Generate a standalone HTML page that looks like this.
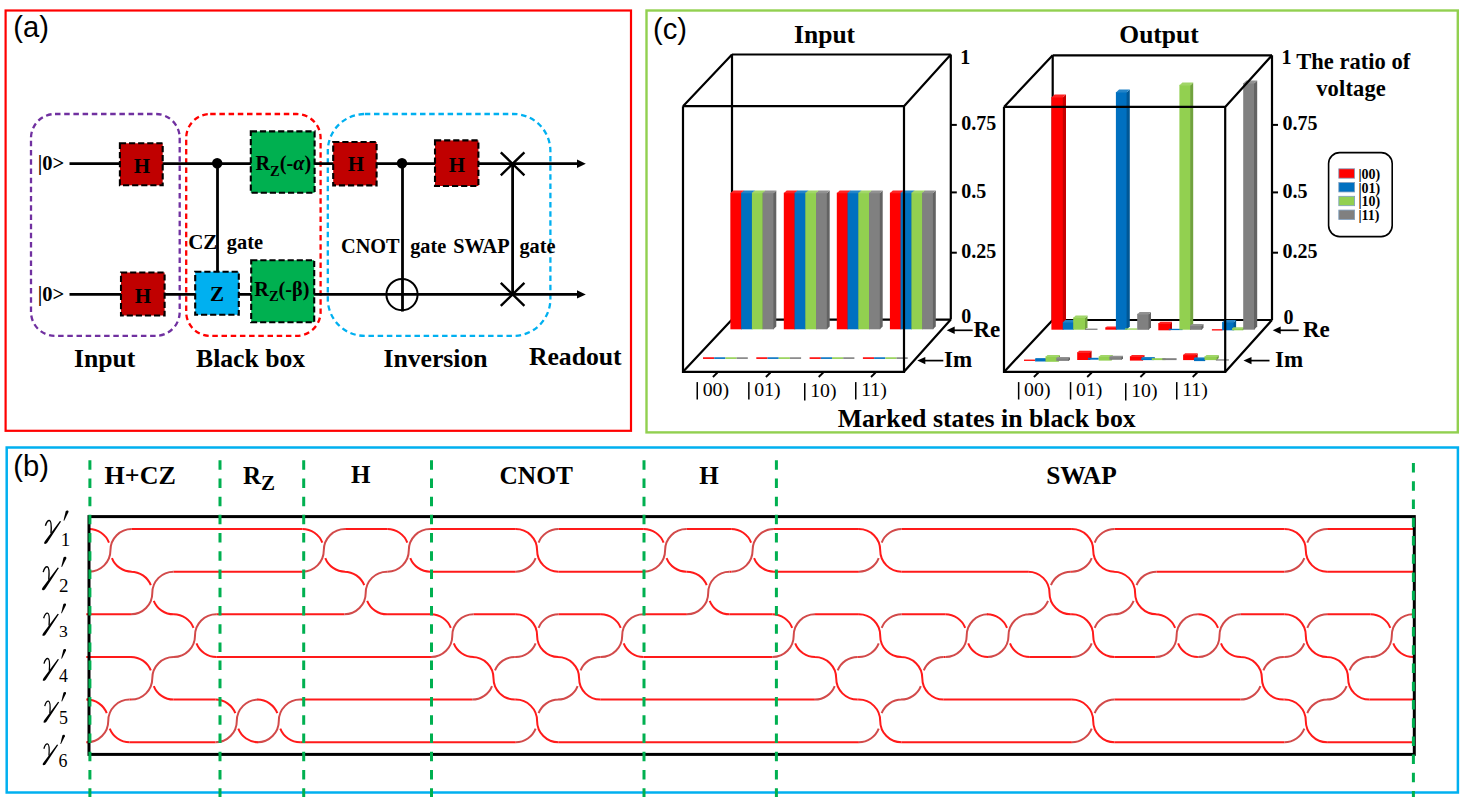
<!DOCTYPE html>
<html><head><meta charset="utf-8"><style>html,body{margin:0;padding:0;background:#fff;}svg{display:block;}</style></head>
<body>
<svg width="1463" height="801" viewBox="0 0 1463 801">
<rect x="0" y="0" width="1463" height="801" fill="#fff"/>
<rect x="5.6" y="10.5" width="625.4" height="420.3" fill="none" stroke="#FF0000" stroke-width="2.2"/>
<rect x="646.5" y="10.5" width="811.3" height="421.9" fill="none" stroke="#92D050" stroke-width="2.4"/>
<rect x="6.7" y="447.5" width="1451.2" height="345" fill="none" stroke="#00B0F0" stroke-width="2.5"/>
<text x="13.3" y="36.9" font-family='"Liberation Sans", sans-serif' font-size="29.2" fill="#000">(a)</text>
<text x="653" y="38.7" font-family='"Liberation Sans", sans-serif' font-size="29.2" fill="#000">(c)</text>
<text x="13.3" y="475.7" font-family='"Liberation Sans", sans-serif' font-size="29.2" fill="#000">(b)</text>
<rect x="31" y="114" width="148.7" height="221.89999999999998" rx="24" ry="24" fill="none" stroke="#7030A0" stroke-width="2.3" stroke-dasharray="5.5 3.7"/>
<rect x="186.2" y="114" width="134.40000000000003" height="221.89999999999998" rx="24" ry="24" fill="none" stroke="#FF0000" stroke-width="2.3" stroke-dasharray="5.5 3.7"/>
<rect x="327.8" y="114" width="222.59999999999997" height="221.89999999999998" rx="37" ry="37" fill="none" stroke="#00B0F0" stroke-width="2.3" stroke-dasharray="5.5 3.7"/>
<line x1="69.5" y1="163.6" x2="580" y2="163.6" stroke="#000" stroke-width="2.6"/>
<line x1="69.5" y1="294.4" x2="580" y2="294.4" stroke="#000" stroke-width="2.6"/>
<path d="M585.8,163.8 L577,159.6 L577,168 Z" fill="#000"/>
<path d="M585.8,294.4 L577,290.2 L577,298.6 Z" fill="#000"/>
<line x1="217.5" y1="163.6" x2="217.5" y2="272" stroke="#000" stroke-width="2.8"/>
<circle cx="217.2" cy="163.3" r="5.2" fill="#000"/>
<line x1="402.5" y1="163.6" x2="402.5" y2="311.5" stroke="#000" stroke-width="2.8"/>
<circle cx="402" cy="163.2" r="5.2" fill="#000"/>
<circle cx="402" cy="294.6" r="15.6" fill="none" stroke="#000" stroke-width="2"/>
<line x1="512.6" y1="163.6" x2="512.6" y2="294.4" stroke="#000" stroke-width="2.8"/>
<path d="M500.8,152.3 L524.4,175.3 M524.4,152.3 L500.8,175.3" stroke="#000" stroke-width="2.4"/>
<path d="M500.8,282.9 L524.4,305.9 M524.4,282.9 L500.8,305.9" stroke="#000" stroke-width="2.4"/>
<rect x="119.9" y="143.3" width="42.79999999999998" height="42.0" fill="#C00000" stroke="#000" stroke-width="2.1" stroke-dasharray="6.2 2.9"/>
<rect x="121" y="272.5" width="43.599999999999994" height="43.0" fill="#C00000" stroke="#000" stroke-width="2.1" stroke-dasharray="6.2 2.9"/>
<rect x="195.2" y="271.7" width="43.60000000000002" height="43.10000000000002" fill="#00B0F0" stroke="#000" stroke-width="2.1" stroke-dasharray="6.2 2.9"/>
<rect x="250.8" y="131.4" width="63.80000000000001" height="61.400000000000006" fill="#00B050" stroke="#000" stroke-width="2.1" stroke-dasharray="6.2 2.9"/>
<rect x="251.2" y="260.2" width="63.0" height="62.0" fill="#00B050" stroke="#000" stroke-width="2.1" stroke-dasharray="6.2 2.9"/>
<rect x="333.2" y="142" width="43.400000000000034" height="43.400000000000006" fill="#C00000" stroke="#000" stroke-width="2.1" stroke-dasharray="6.2 2.9"/>
<rect x="435" y="140.4" width="43.39999999999998" height="45.599999999999994" fill="#C00000" stroke="#000" stroke-width="2.1" stroke-dasharray="6.2 2.9"/>
<text x="142" y="173" font-family='"Liberation Serif", serif' font-size="21" font-weight="bold" font-style="normal" text-anchor="middle" fill="#000" >H</text>
<text x="143" y="303" font-family='"Liberation Serif", serif' font-size="21" font-weight="bold" font-style="normal" text-anchor="middle" fill="#000" >H</text>
<text x="356" y="170.7" font-family='"Liberation Serif", serif' font-size="21" font-weight="bold" font-style="normal" text-anchor="middle" fill="#000" >H</text>
<text x="457" y="172.4" font-family='"Liberation Serif", serif' font-size="21" font-weight="bold" font-style="normal" text-anchor="middle" fill="#000" >H</text>
<text x="217" y="301" font-family='"Liberation Serif", serif' font-size="21" font-weight="bold" font-style="normal" text-anchor="middle" fill="#000" >Z</text>
<text x="255.5" y="169.8" font-family='"Liberation Serif", serif' font-size="20.2" font-weight="bold">R<tspan font-size="14.5" dy="6">Z</tspan><tspan dy="-6">(-</tspan><tspan font-style="italic">α</tspan>)</text>
<text x="254.3" y="295.8" font-family='"Liberation Serif", serif' font-size="20.2" font-weight="bold">R<tspan font-size="14.5" dy="5">Z</tspan><tspan dy="-5">(-β)</tspan></text>
<text x="37.7" y="170" font-family='"Liberation Serif", serif' font-size="20.5" font-weight="bold" font-style="normal" text-anchor="start" fill="#000" >|0&gt;</text>
<text x="37.7" y="300.5" font-family='"Liberation Serif", serif' font-size="20.5" font-weight="bold" font-style="normal" text-anchor="start" fill="#000" >|0&gt;</text>
<text x="188.2" y="248.9" font-family='"Liberation Serif", serif' font-size="21" font-weight="bold" font-style="normal" text-anchor="start" fill="#000" >CZ</text>
<text x="226.8" y="248.9" font-family='"Liberation Serif", serif' font-size="20.4" font-weight="bold" font-style="normal" text-anchor="start" fill="#000" >gate</text>
<text x="341.0" y="253.1" font-family='"Liberation Serif", serif' font-size="20.3" font-weight="bold" font-style="normal" text-anchor="start" fill="#000" >CNOT</text>
<text x="410.2" y="253.1" font-family='"Liberation Serif", serif' font-size="20.3" font-weight="bold" font-style="normal" text-anchor="start" fill="#000" >gate</text>
<text x="453.3" y="253.1" font-family='"Liberation Serif", serif' font-size="20.3" font-weight="bold" font-style="normal" text-anchor="start" fill="#000" >SWAP</text>
<text x="519.4" y="253.1" font-family='"Liberation Serif", serif' font-size="20.3" font-weight="bold" font-style="normal" text-anchor="start" fill="#000" >gate</text>
<text x="74" y="366.8" font-family='"Liberation Serif", serif' font-size="25.7" font-weight="bold" font-style="normal" text-anchor="start" fill="#000" >Input</text>
<text x="196" y="366.8" font-family='"Liberation Serif", serif' font-size="25.7" font-weight="bold" font-style="normal" text-anchor="start" fill="#000" >Black box</text>
<text x="383.4" y="366.5" font-family='"Liberation Serif", serif' font-size="25.7" font-weight="bold" font-style="normal" text-anchor="start" fill="#000" >Inversion</text>
<text x="528.9" y="364.8" font-family='"Liberation Serif", serif' font-size="25.7" font-weight="bold" font-style="normal" text-anchor="start" fill="#000" >Readout</text>
<path d="M732.0,54.5 L950.8,54.5 M732.0,54.5 L732.0,319.6 L950.8,319.6 M683.0,371.8 L732.0,319.6" fill="none" stroke="#000" stroke-width="2.2"/>
<rect x="730.40" y="192.70" width="11.35" height="136.60" fill="#FF0000"/>
<path d="M741.15,193.30 L744.05,190.40 L744.05,326.40 L741.15,329.30 Z" fill="#c60000"/>
<path d="M730.40,193.30 L733.30,190.40 L744.05,190.40 L741.15,193.30 Z" fill="#ff2323"/>
<rect x="741.15" y="192.70" width="11.35" height="136.60" fill="#0070C0"/>
<path d="M751.90,193.30 L754.80,190.40 L754.80,326.40 L751.90,329.30 Z" fill="#005795"/>
<path d="M741.15,193.30 L744.05,190.40 L754.80,190.40 L751.90,193.30 Z" fill="#2384c8"/>
<rect x="751.90" y="192.70" width="11.35" height="136.60" fill="#92D050"/>
<path d="M762.65,193.30 L765.55,190.40 L765.55,326.40 L762.65,329.30 Z" fill="#71a23e"/>
<path d="M751.90,193.30 L754.80,190.40 L765.55,190.40 L762.65,193.30 Z" fill="#a1d668"/>
<rect x="762.65" y="192.70" width="11.35" height="136.60" fill="#808080"/>
<path d="M773.40,193.30 L776.30,190.40 L776.30,326.40 L773.40,329.30 Z" fill="#636363"/>
<path d="M762.65,193.30 L765.55,190.40 L776.30,190.40 L773.40,193.30 Z" fill="#919191"/>
<rect x="783.80" y="192.70" width="11.35" height="136.60" fill="#FF0000"/>
<path d="M794.55,193.30 L797.45,190.40 L797.45,326.40 L794.55,329.30 Z" fill="#c60000"/>
<path d="M783.80,193.30 L786.70,190.40 L797.45,190.40 L794.55,193.30 Z" fill="#ff2323"/>
<rect x="794.55" y="192.70" width="11.35" height="136.60" fill="#0070C0"/>
<path d="M805.30,193.30 L808.20,190.40 L808.20,326.40 L805.30,329.30 Z" fill="#005795"/>
<path d="M794.55,193.30 L797.45,190.40 L808.20,190.40 L805.30,193.30 Z" fill="#2384c8"/>
<rect x="805.30" y="192.70" width="11.35" height="136.60" fill="#92D050"/>
<path d="M816.05,193.30 L818.95,190.40 L818.95,326.40 L816.05,329.30 Z" fill="#71a23e"/>
<path d="M805.30,193.30 L808.20,190.40 L818.95,190.40 L816.05,193.30 Z" fill="#a1d668"/>
<rect x="816.05" y="192.70" width="11.35" height="136.60" fill="#808080"/>
<path d="M826.80,193.30 L829.70,190.40 L829.70,326.40 L826.80,329.30 Z" fill="#636363"/>
<path d="M816.05,193.30 L818.95,190.40 L829.70,190.40 L826.80,193.30 Z" fill="#919191"/>
<rect x="836.80" y="192.70" width="11.35" height="136.60" fill="#FF0000"/>
<path d="M847.55,193.30 L850.45,190.40 L850.45,326.40 L847.55,329.30 Z" fill="#c60000"/>
<path d="M836.80,193.30 L839.70,190.40 L850.45,190.40 L847.55,193.30 Z" fill="#ff2323"/>
<rect x="847.55" y="192.70" width="11.35" height="136.60" fill="#0070C0"/>
<path d="M858.30,193.30 L861.20,190.40 L861.20,326.40 L858.30,329.30 Z" fill="#005795"/>
<path d="M847.55,193.30 L850.45,190.40 L861.20,190.40 L858.30,193.30 Z" fill="#2384c8"/>
<rect x="858.30" y="192.70" width="11.35" height="136.60" fill="#92D050"/>
<path d="M869.05,193.30 L871.95,190.40 L871.95,326.40 L869.05,329.30 Z" fill="#71a23e"/>
<path d="M858.30,193.30 L861.20,190.40 L871.95,190.40 L869.05,193.30 Z" fill="#a1d668"/>
<rect x="869.05" y="192.70" width="11.35" height="136.60" fill="#808080"/>
<path d="M879.80,193.30 L882.70,190.40 L882.70,326.40 L879.80,329.30 Z" fill="#636363"/>
<path d="M869.05,193.30 L871.95,190.40 L882.70,190.40 L879.80,193.30 Z" fill="#919191"/>
<rect x="889.90" y="192.70" width="11.35" height="136.60" fill="#FF0000"/>
<path d="M900.65,193.30 L903.55,190.40 L903.55,326.40 L900.65,329.30 Z" fill="#c60000"/>
<path d="M889.90,193.30 L892.80,190.40 L903.55,190.40 L900.65,193.30 Z" fill="#ff2323"/>
<rect x="900.65" y="192.70" width="11.35" height="136.60" fill="#0070C0"/>
<path d="M911.40,193.30 L914.30,190.40 L914.30,326.40 L911.40,329.30 Z" fill="#005795"/>
<path d="M900.65,193.30 L903.55,190.40 L914.30,190.40 L911.40,193.30 Z" fill="#2384c8"/>
<rect x="911.40" y="192.70" width="11.35" height="136.60" fill="#92D050"/>
<path d="M922.15,193.30 L925.05,190.40 L925.05,326.40 L922.15,329.30 Z" fill="#71a23e"/>
<path d="M911.40,193.30 L914.30,190.40 L925.05,190.40 L922.15,193.30 Z" fill="#a1d668"/>
<rect x="922.15" y="192.70" width="11.35" height="136.60" fill="#808080"/>
<path d="M932.90,193.30 L935.80,190.40 L935.80,326.40 L932.90,329.30 Z" fill="#636363"/>
<path d="M922.15,193.30 L925.05,190.40 L935.80,190.40 L932.90,193.30 Z" fill="#919191"/>
<rect x="703.00" y="357.30" width="11.20" height="1.60" fill="#FF0000"/>
<rect x="714.20" y="357.30" width="11.20" height="1.60" fill="#0070C0"/>
<rect x="725.40" y="357.30" width="11.20" height="1.60" fill="#92D050"/>
<rect x="736.60" y="357.30" width="11.20" height="1.60" fill="#808080"/>
<rect x="756.30" y="357.30" width="11.20" height="1.60" fill="#FF0000"/>
<rect x="767.50" y="357.30" width="11.20" height="1.60" fill="#0070C0"/>
<rect x="778.70" y="357.30" width="11.20" height="1.60" fill="#92D050"/>
<rect x="789.90" y="357.30" width="11.20" height="1.60" fill="#808080"/>
<rect x="809.60" y="357.30" width="11.20" height="1.60" fill="#FF0000"/>
<rect x="820.80" y="357.30" width="11.20" height="1.60" fill="#0070C0"/>
<rect x="832.00" y="357.30" width="11.20" height="1.60" fill="#92D050"/>
<rect x="843.20" y="357.30" width="11.20" height="1.60" fill="#808080"/>
<rect x="862.90" y="357.30" width="11.20" height="1.60" fill="#FF0000"/>
<rect x="874.10" y="357.30" width="11.20" height="1.60" fill="#0070C0"/>
<rect x="885.30" y="357.30" width="11.20" height="1.60" fill="#92D050"/>
<rect x="896.50" y="357.30" width="11.20" height="1.60" fill="#808080"/>
<path d="M683.0,106.2 L732.0,54.5 M904.0,106.2 L950.8,54.5 M683.0,106.2 L904.0,106.2 M683.0,106.2 L683.0,371.8 L904.0,371.8 L904.0,106.2 M904.0,371.8 L950.8,319.6 M950.8,54.5 L950.8,319.6" fill="none" stroke="#000" stroke-width="2.2" stroke-linejoin="miter"/>
<line x1="950.8" y1="124.9" x2="956.8" y2="124.9" stroke="#000" stroke-width="2"/>
<line x1="950.8" y1="192.4" x2="956.8" y2="192.4" stroke="#000" stroke-width="2"/>
<line x1="950.8" y1="252.7" x2="956.8" y2="252.7" stroke="#000" stroke-width="2"/>
<text x="960.3" y="63.7" font-family='"Liberation Serif", serif' font-size="20" font-weight="bold" font-style="normal" text-anchor="start" fill="#000" >1</text>
<text x="961.3" y="129.8" font-family='"Liberation Serif", serif' font-size="20" font-weight="bold" font-style="normal" text-anchor="start" fill="#000" >0.75</text>
<text x="961.3" y="197.5" font-family='"Liberation Serif", serif' font-size="20" font-weight="bold" font-style="normal" text-anchor="start" fill="#000" >0.5</text>
<text x="961.3" y="258" font-family='"Liberation Serif", serif' font-size="20" font-weight="bold" font-style="normal" text-anchor="start" fill="#000" >0.25</text>
<text x="961.3" y="322.8" font-family='"Liberation Serif", serif' font-size="20" font-weight="bold" font-style="normal" text-anchor="start" fill="#000" >0</text>
<line x1="950.7" y1="330.3" x2="972.7" y2="330.3" stroke="#000" stroke-width="1.7"/>
<path d="M946.7,330.3 L954.7,326.6 L954.7,334 Z" fill="#000"/>
<text x="973.5" y="336.6" font-family='"Liberation Serif", serif' font-size="23" font-weight="bold" font-style="normal" text-anchor="start" fill="#000" >Re</text>
<line x1="921.3" y1="360.6" x2="943.3" y2="360.6" stroke="#000" stroke-width="1.7"/>
<path d="M917.3,360.6 L925.3,356.9 L925.3,364.3 Z" fill="#000"/>
<text x="944" y="366.8" font-family='"Liberation Serif", serif' font-size="23" font-weight="bold" font-style="normal" text-anchor="start" fill="#000" >Im</text>
<line x1="712.9" y1="377" x2="717.5" y2="372.5" stroke="#000" stroke-width="1.8"/>
<rect x="696.5" y="382.1" width="1.5" height="17.4" fill="#000"/>
<text x="702.7" y="395.8" font-family='"Liberation Serif", serif' font-size="19.8" font-weight="normal" font-style="normal" text-anchor="start" fill="#000" >00)</text>
<line x1="765.9" y1="377" x2="770.5" y2="372.5" stroke="#000" stroke-width="1.8"/>
<rect x="748.1" y="382.1" width="1.5" height="17.4" fill="#000"/>
<text x="754.3000000000001" y="395.8" font-family='"Liberation Serif", serif' font-size="19.8" font-weight="normal" font-style="normal" text-anchor="start" fill="#000" >01)</text>
<line x1="818.7" y1="377" x2="823.3000000000001" y2="372.5" stroke="#000" stroke-width="1.8"/>
<rect x="804" y="383.1" width="1.5" height="17.4" fill="#000"/>
<text x="810.2" y="396.8" font-family='"Liberation Serif", serif' font-size="19.8" font-weight="normal" font-style="normal" text-anchor="start" fill="#000" >10)</text>
<line x1="871" y1="377" x2="875.6" y2="372.5" stroke="#000" stroke-width="1.8"/>
<rect x="855" y="382.1" width="1.5" height="17.4" fill="#000"/>
<text x="861.2" y="395.8" font-family='"Liberation Serif", serif' font-size="19.8" font-weight="normal" font-style="normal" text-anchor="start" fill="#000" >11)</text>
<text x="824.6" y="42.8" font-family='"Liberation Serif", serif' font-size="25.5" font-weight="bold" font-style="normal" text-anchor="middle" fill="#000" >Input</text>
<path d="M1052.7,55.3 L1272.0,55.3 M1052.7,55.3 L1052.7,320.0 L1272.0,320.0 M1004.0,371.9 L1052.7,320.0" fill="none" stroke="#000" stroke-width="2.2"/>
<rect x="1051.40" y="97.00" width="12.00" height="232.70" fill="#FF0000"/>
<path d="M1062.80,97.60 L1066.00,94.40 L1066.00,326.50 L1062.80,329.70 Z" fill="#c60000"/>
<path d="M1051.40,97.60 L1054.60,94.40 L1066.00,94.40 L1062.80,97.60 Z" fill="#ff2323"/>
<rect x="1062.80" y="321.90" width="11.00" height="7.80" fill="#0070C0"/>
<path d="M1073.20,322.50 L1075.70,320.00 L1075.70,327.20 L1073.20,329.70 Z" fill="#005795"/>
<path d="M1062.80,322.50 L1065.30,320.00 L1075.70,320.00 L1073.20,322.50 Z" fill="#2384c8"/>
<rect x="1073.20" y="317.50" width="12.40" height="12.20" fill="#92D050"/>
<path d="M1085.00,318.10 L1087.50,315.60 L1087.50,327.20 L1085.00,329.70 Z" fill="#71a23e"/>
<path d="M1073.20,318.10 L1075.70,315.60 L1087.50,315.60 L1085.00,318.10 Z" fill="#a1d668"/>
<rect x="1085.00" y="328.60" width="12.50" height="1.30" fill="#808080"/>
<rect x="1105.30" y="327.40" width="11.20" height="2.30" fill="#FF0000"/>
<path d="M1115.90,328.00 L1117.40,326.50 L1117.40,328.20 L1115.90,329.70 Z" fill="#c60000"/>
<path d="M1105.30,328.00 L1106.80,326.50 L1117.40,326.50 L1115.90,328.00 Z" fill="#ff2323"/>
<rect x="1115.90" y="92.00" width="11.30" height="237.70" fill="#0070C0"/>
<path d="M1126.60,92.60 L1129.80,89.40 L1129.80,326.50 L1126.60,329.70 Z" fill="#005795"/>
<path d="M1115.90,92.60 L1119.10,89.40 L1129.80,89.40 L1126.60,92.60 Z" fill="#2384c8"/>
<rect x="1125.00" y="328.40" width="12.20" height="1.30" fill="#92D050"/>
<rect x="1137.20" y="313.80" width="11.90" height="16.00" fill="#808080"/>
<path d="M1148.50,314.40 L1151.00,311.90 L1151.00,327.30 L1148.50,329.80 Z" fill="#636363"/>
<path d="M1137.20,314.40 L1139.70,311.90 L1151.00,311.90 L1148.50,314.40 Z" fill="#919191"/>
<rect x="1158.30" y="323.10" width="12.30" height="7.20" fill="#FF0000"/>
<path d="M1170.00,323.70 L1172.00,321.70 L1172.00,328.30 L1170.00,330.30 Z" fill="#c60000"/>
<path d="M1158.30,323.70 L1160.30,321.70 L1172.00,321.70 L1170.00,323.70 Z" fill="#ff2323"/>
<rect x="1168.80" y="328.80" width="13.80" height="1.30" fill="#0070C0"/>
<rect x="1179.40" y="84.80" width="11.40" height="244.90" fill="#92D050"/>
<path d="M1190.20,85.40 L1193.20,82.40 L1193.20,326.70 L1190.20,329.70 Z" fill="#71a23e"/>
<path d="M1179.40,85.40 L1182.40,82.40 L1193.20,82.40 L1190.20,85.40 Z" fill="#a1d668"/>
<rect x="1190.00" y="325.40" width="12.10" height="4.40" fill="#808080"/>
<path d="M1201.50,326.00 L1203.50,324.00 L1203.50,327.80 L1201.50,329.80 Z" fill="#636363"/>
<path d="M1190.00,326.00 L1192.00,324.00 L1203.50,324.00 L1201.50,326.00 Z" fill="#919191"/>
<rect x="1211.90" y="329.20" width="10.50" height="1.30" fill="#FF0000"/>
<rect x="1222.10" y="321.90" width="12.10" height="8.40" fill="#0070C0"/>
<path d="M1233.60,322.50 L1236.10,320.00 L1236.10,327.80 L1233.60,330.30 Z" fill="#005795"/>
<path d="M1222.10,322.50 L1224.60,320.00 L1236.10,320.00 L1233.60,322.50 Z" fill="#2384c8"/>
<rect x="1232.10" y="328.20" width="11.20" height="2.10" fill="#92D050"/>
<path d="M1242.70,328.80 L1244.20,327.30 L1244.20,328.80 L1242.70,330.30 Z" fill="#71a23e"/>
<path d="M1232.10,328.80 L1233.60,327.30 L1244.20,327.30 L1242.70,328.80 Z" fill="#a1d668"/>
<rect x="1243.20" y="83.00" width="11.40" height="246.70" fill="#808080"/>
<path d="M1254.00,83.60 L1257.20,80.40 L1257.20,326.50 L1254.00,329.70 Z" fill="#636363"/>
<path d="M1243.20,83.60 L1246.40,80.40 L1257.20,80.40 L1254.00,83.60 Z" fill="#919191"/>
<rect x="1024.00" y="359.60" width="11.10" height="1.30" fill="#FF0000"/>
<rect x="1035.10" y="358.50" width="10.70" height="3.00" fill="#0070C0"/>
<path d="M1045.20,359.10 L1046.20,358.10 L1046.20,360.50 L1045.20,361.50 Z" fill="#005795"/>
<path d="M1035.10,359.10 L1036.10,358.10 L1046.20,358.10 L1045.20,359.10 Z" fill="#2384c8"/>
<rect x="1045.50" y="356.40" width="13.10" height="5.40" fill="#92D050"/>
<path d="M1058.00,357.00 L1060.00,355.00 L1060.00,359.80 L1058.00,361.80 Z" fill="#71a23e"/>
<path d="M1045.50,357.00 L1047.50,355.00 L1060.00,355.00 L1058.00,357.00 Z" fill="#a1d668"/>
<rect x="1056.30" y="357.80" width="12.80" height="3.10" fill="#808080"/>
<path d="M1068.50,358.40 L1070.00,356.90 L1070.00,359.40 L1068.50,360.90 Z" fill="#636363"/>
<path d="M1056.30,358.40 L1057.80,356.90 L1070.00,356.90 L1068.50,358.40 Z" fill="#919191"/>
<rect x="1077.20" y="352.20" width="13.00" height="7.80" fill="#FF0000"/>
<path d="M1089.60,352.80 L1091.60,350.80 L1091.60,358.00 L1089.60,360.00 Z" fill="#c60000"/>
<path d="M1077.20,352.80 L1079.20,350.80 L1091.60,350.80 L1089.60,352.80 Z" fill="#ff2323"/>
<rect x="1088.00" y="357.80" width="10.70" height="1.90" fill="#0070C0"/>
<rect x="1098.70" y="356.40" width="12.90" height="4.20" fill="#92D050"/>
<path d="M1111.00,357.00 L1113.00,355.00 L1113.00,358.60 L1111.00,360.60 Z" fill="#71a23e"/>
<path d="M1098.70,357.00 L1100.70,355.00 L1113.00,355.00 L1111.00,357.00 Z" fill="#a1d668"/>
<rect x="1109.40" y="356.60" width="12.70" height="3.20" fill="#808080"/>
<path d="M1121.50,357.20 L1123.00,355.70 L1123.00,358.30 L1121.50,359.80 Z" fill="#636363"/>
<path d="M1109.40,357.20 L1110.90,355.70 L1123.00,355.70 L1121.50,357.20 Z" fill="#919191"/>
<rect x="1129.90" y="356.30" width="13.20" height="4.30" fill="#FF0000"/>
<path d="M1142.50,356.90 L1144.50,354.90 L1144.50,358.60 L1142.50,360.60 Z" fill="#c60000"/>
<path d="M1129.90,356.90 L1131.90,354.90 L1144.50,354.90 L1142.50,356.90 Z" fill="#ff2323"/>
<rect x="1141.20" y="357.80" width="12.90" height="2.30" fill="#0070C0"/>
<path d="M1153.50,358.40 L1155.00,356.90 L1155.00,358.60 L1153.50,360.10 Z" fill="#005795"/>
<path d="M1141.20,358.40 L1142.70,356.90 L1155.00,356.90 L1153.50,358.40 Z" fill="#2384c8"/>
<rect x="1151.80" y="358.20" width="13.80" height="1.90" fill="#92D050"/>
<rect x="1162.30" y="358.20" width="14.30" height="1.90" fill="#808080"/>
<rect x="1183.10" y="354.70" width="13.20" height="5.40" fill="#FF0000"/>
<path d="M1195.70,355.30 L1197.70,353.30 L1197.70,358.10 L1195.70,360.10 Z" fill="#c60000"/>
<path d="M1183.10,355.30 L1185.10,353.30 L1197.70,353.30 L1195.70,355.30 Z" fill="#ff2323"/>
<rect x="1194.00" y="357.80" width="11.10" height="3.30" fill="#0070C0"/>
<path d="M1204.50,358.40 L1205.50,357.40 L1205.50,360.10 L1204.50,361.10 Z" fill="#005795"/>
<path d="M1194.00,358.40 L1195.00,357.40 L1205.50,357.40 L1204.50,358.40 Z" fill="#2384c8"/>
<rect x="1204.50" y="356.30" width="12.90" height="3.80" fill="#92D050"/>
<path d="M1216.80,356.90 L1218.80,354.90 L1218.80,358.10 L1216.80,360.10 Z" fill="#71a23e"/>
<path d="M1204.50,356.90 L1206.50,354.90 L1218.80,354.90 L1216.80,356.90 Z" fill="#a1d668"/>
<rect x="1215.90" y="359.30" width="13.00" height="1.30" fill="#808080"/>
<path d="M1004.0,106.9 L1052.7,55.3 M1225.2,106.9 L1272.0,55.3 M1004.0,106.9 L1225.2,106.9 M1004.0,106.9 L1004.0,371.9 L1225.2,371.9 L1225.2,106.9 M1225.2,371.9 L1272.0,320.0 M1272.0,55.3 L1272.0,320.0" fill="none" stroke="#000" stroke-width="2.2" stroke-linejoin="miter"/>
<line x1="1272.0" y1="124.9" x2="1278.0" y2="124.9" stroke="#000" stroke-width="2"/>
<line x1="1272.0" y1="192.4" x2="1278.0" y2="192.4" stroke="#000" stroke-width="2"/>
<line x1="1272.0" y1="252.7" x2="1278.0" y2="252.7" stroke="#000" stroke-width="2"/>
<text x="1281.5" y="63.7" font-family='"Liberation Serif", serif' font-size="20" font-weight="bold" font-style="normal" text-anchor="start" fill="#000" >1</text>
<text x="1282.5" y="129.8" font-family='"Liberation Serif", serif' font-size="20" font-weight="bold" font-style="normal" text-anchor="start" fill="#000" >0.75</text>
<text x="1282.5" y="197.5" font-family='"Liberation Serif", serif' font-size="20" font-weight="bold" font-style="normal" text-anchor="start" fill="#000" >0.5</text>
<text x="1282.5" y="258" font-family='"Liberation Serif", serif' font-size="20" font-weight="bold" font-style="normal" text-anchor="start" fill="#000" >0.25</text>
<text x="1283.5" y="323.8" font-family='"Liberation Serif", serif' font-size="20" font-weight="bold" font-style="normal" text-anchor="start" fill="#000" >0</text>
<line x1="1276.7" y1="330.3" x2="1298.7" y2="330.3" stroke="#000" stroke-width="1.7"/>
<path d="M1272.7,330.3 L1280.7,326.6 L1280.7,334 Z" fill="#000"/>
<text x="1303" y="336.6" font-family='"Liberation Serif", serif' font-size="23" font-weight="bold" font-style="normal" text-anchor="start" fill="#000" >Re</text>
<line x1="1247.5" y1="360.6" x2="1269.5" y2="360.6" stroke="#000" stroke-width="1.7"/>
<path d="M1243.5,360.6 L1251.5,356.9 L1251.5,364.3 Z" fill="#000"/>
<text x="1275.0" y="366.8" font-family='"Liberation Serif", serif' font-size="23" font-weight="bold" font-style="normal" text-anchor="start" fill="#000" >Im</text>
<line x1="1033.9" y1="377" x2="1038.5" y2="372.5" stroke="#000" stroke-width="1.8"/>
<rect x="1017.9" y="382.1" width="1.5" height="17.4" fill="#000"/>
<text x="1024.1" y="395.8" font-family='"Liberation Serif", serif' font-size="19.8" font-weight="normal" font-style="normal" text-anchor="start" fill="#000" >00)</text>
<line x1="1087.2" y1="377" x2="1091.8" y2="372.5" stroke="#000" stroke-width="1.8"/>
<rect x="1069.8" y="382.1" width="1.5" height="17.4" fill="#000"/>
<text x="1076.0" y="395.8" font-family='"Liberation Serif", serif' font-size="19.8" font-weight="normal" font-style="normal" text-anchor="start" fill="#000" >01)</text>
<line x1="1140.4" y1="377" x2="1145.0" y2="372.5" stroke="#000" stroke-width="1.8"/>
<rect x="1125" y="383.1" width="1.5" height="17.4" fill="#000"/>
<text x="1131.2" y="396.8" font-family='"Liberation Serif", serif' font-size="19.8" font-weight="normal" font-style="normal" text-anchor="start" fill="#000" >10)</text>
<line x1="1192.7" y1="377" x2="1197.3" y2="372.5" stroke="#000" stroke-width="1.8"/>
<rect x="1176" y="382.1" width="1.5" height="17.4" fill="#000"/>
<text x="1182.2" y="395.8" font-family='"Liberation Serif", serif' font-size="19.8" font-weight="normal" font-style="normal" text-anchor="start" fill="#000" >11)</text>
<text x="1159" y="42.8" font-family='"Liberation Serif", serif' font-size="25.5" font-weight="bold" font-style="normal" text-anchor="middle" fill="#000" >Output</text>
<text x="1353.3" y="68.9" font-family='"Liberation Serif", serif' font-size="22.5" font-weight="bold" font-style="normal" text-anchor="middle" fill="#000" textLength="114" lengthAdjust="spacing">The ratio of</text>
<text x="1351" y="96.4" font-family='"Liberation Serif", serif' font-size="22.5" font-weight="bold" font-style="normal" text-anchor="middle" fill="#000" textLength="69.5" lengthAdjust="spacing">voltage</text>
<rect x="1328.6" y="152.6" width="63.6" height="84" rx="11" ry="11" fill="none" stroke="#000" stroke-width="1.6"/>
<rect x="1338.8" y="168.8" width="15.8" height="9.4" fill="#FF0000" stroke="#7F9FBF" stroke-width="0.8"/>
<text x="1358.5" y="178.8" font-family='"Liberation Serif", serif' font-size="14" font-weight="bold" font-style="normal" text-anchor="start" fill="#000" >|00)</text>
<rect x="1338.8" y="182.55" width="15.8" height="9.4" fill="#0070C0" stroke="#7F9FBF" stroke-width="0.8"/>
<text x="1358.5" y="192.55" font-family='"Liberation Serif", serif' font-size="14" font-weight="bold" font-style="normal" text-anchor="start" fill="#000" >|01)</text>
<rect x="1338.8" y="196.3" width="15.8" height="9.4" fill="#92D050" stroke="#7F9FBF" stroke-width="0.8"/>
<text x="1358.5" y="206.3" font-family='"Liberation Serif", serif' font-size="14" font-weight="bold" font-style="normal" text-anchor="start" fill="#000" >|10)</text>
<rect x="1338.8" y="210.05" width="15.8" height="9.4" fill="#808080" stroke="#7F9FBF" stroke-width="0.8"/>
<text x="1358.5" y="220.05" font-family='"Liberation Serif", serif' font-size="14" font-weight="bold" font-style="normal" text-anchor="start" fill="#000" >|11)</text>
<text x="986.7" y="426.5" font-family='"Liberation Serif", serif' font-size="25.8" font-weight="bold" font-style="normal" text-anchor="middle" fill="#000" >Marked states in black box</text>
<path d="M89.00,529.00 H89.12 M131.78,529.00 H302.47 M345.13,529.00 H387.47 M430.13,529.00 H515.77 M558.43,529.00 H643.77 M686.43,529.00 H731.27 M773.93,529.00 H858.87 M901.53,529.00 H1071.87 M1114.53,529.00 H1284.47 M1327.13,529.00 H1413.80 M89.00,571.65 H89.12 M173.63,571.65 H302.47 M387.03,571.65 H387.47 M430.13,571.65 H515.77 M558.43,571.65 H643.77 M686.43,571.65 H686.87 M729.53,571.65 H731.27 M773.93,571.65 H858.87 M901.53,571.65 H1028.17 M1070.83,571.65 H1071.87 M1156.43,571.65 H1284.47 M1327.13,571.65 H1413.80 M89.00,614.30 H130.97 M216.33,614.30 H344.37 M387.03,614.30 H430.97 M473.63,614.30 H515.77 M558.43,614.30 H600.87 M643.53,614.30 H686.87 M729.53,614.30 H772.37 M815.03,614.30 H858.87 M901.53,614.30 H945.37 M1070.83,614.30 H1071.87 M1197.93,614.30 H1198.17 M1240.83,614.30 H1284.47 M1327.13,614.30 H1370.47 M1413.13,614.30 H1413.80 M89.00,656.95 H130.97 M216.33,656.95 H430.97 M514.83,656.95 H515.77 M600.43,656.95 H600.87 M643.53,656.95 H772.37 M857.53,656.95 H858.87 M943.63,656.95 H945.37 M1029.83,656.95 H1071.87 M1114.53,656.95 H1155.27 M1197.93,656.95 H1198.17 M1283.23,656.95 H1284.47 M1369.43,656.95 H1370.47 M1413.13,656.95 H1413.80 M129.58,699.60 H130.97 M173.63,699.60 H215.47 M300.13,699.60 H472.17 M514.83,699.60 H515.77 M600.43,699.60 H814.87 M857.53,699.60 H858.87 M943.63,699.60 H1071.87 M1114.53,699.60 H1240.57 M1283.23,699.60 H1284.47 M1369.43,699.60 H1413.80 M129.58,742.25 H215.47 M300.13,742.25 H515.77 M558.43,742.25 H858.87 M901.53,742.25 H1071.87 M1114.53,742.25 H1284.47 M1327.13,742.25 H1413.80 M86.3,614.30 H89 M86.3,656.95 H89 M86.3,699.60 H89 M86.3,742.25 H89" fill="none" stroke="#FF1A1A" stroke-width="2"/>
<path d="M89.12,571.65 A21.33,21.32 0 0 0 110.45,550.33 A21.33,21.32 0 0 1 131.78,529.00 M86.92,742.25 A21.33,21.32 0 0 0 108.25,720.92 A21.33,21.32 0 0 1 129.58,699.60 M130.97,614.30 A21.33,21.32 0 0 0 152.30,592.97 A21.33,21.32 0 0 1 173.63,571.65 M130.97,699.60 A21.33,21.32 0 0 0 152.30,678.28 A21.33,21.32 0 0 1 173.63,656.95 M173.67,656.95 A21.33,21.32 0 0 0 195.00,635.62 A21.33,21.32 0 0 1 216.33,614.30 M215.47,742.25 A21.33,21.32 0 0 0 236.80,720.92 A21.33,21.32 0 0 1 258.13,699.60 M257.47,742.25 A21.33,21.32 0 0 0 278.80,720.92 A21.33,21.32 0 0 1 300.13,699.60 M302.47,571.65 A21.33,21.32 0 0 0 323.80,550.33 A21.33,21.32 0 0 1 345.13,529.00 M344.37,614.30 A21.33,21.32 0 0 0 365.70,592.97 A21.33,21.32 0 0 1 387.03,571.65 M387.47,571.65 A21.33,21.32 0 0 0 408.80,550.33 A21.33,21.32 0 0 1 430.13,529.00 M430.97,656.95 A21.33,21.32 0 0 0 452.30,635.62 A21.33,21.32 0 0 1 473.63,614.30 M472.17,699.60 A21.33,21.32 0 0 0 492.02,686.08 M494.98,670.48 A21.33,21.32 0 0 1 514.83,656.95 M515.77,571.65 A21.33,21.32 0 0 0 535.62,558.12 M538.58,542.53 A21.33,21.32 0 0 1 558.43,529.00 M515.77,656.95 A21.33,21.32 0 0 0 535.62,643.42 M538.58,627.83 A21.33,21.32 0 0 1 558.43,614.30 M515.77,742.25 A21.33,21.32 0 0 0 535.62,728.72 M538.58,713.12 A21.33,21.32 0 0 1 558.43,699.60 M557.77,699.60 A21.33,21.32 0 0 0 577.62,686.08 M580.58,670.48 A21.33,21.32 0 0 1 600.43,656.95 M600.87,656.95 A21.33,21.32 0 0 0 622.20,635.62 A21.33,21.32 0 0 1 643.53,614.30 M643.77,571.65 A21.33,21.32 0 0 0 665.10,550.33 A21.33,21.32 0 0 1 686.43,529.00 M686.87,614.30 A21.33,21.32 0 0 0 708.20,592.97 A21.33,21.32 0 0 1 729.53,571.65 M731.27,571.65 A21.33,21.32 0 0 0 752.60,550.33 A21.33,21.32 0 0 1 773.93,529.00 M772.37,656.95 A21.33,21.32 0 0 0 793.70,635.62 A21.33,21.32 0 0 1 815.03,614.30 M814.87,699.60 A21.33,21.32 0 0 0 834.72,686.08 M837.68,670.48 A21.33,21.32 0 0 1 857.53,656.95 M858.87,571.65 A21.33,21.32 0 0 0 878.72,558.12 M881.68,542.53 A21.33,21.32 0 0 1 901.53,529.00 M858.87,656.95 A21.33,21.32 0 0 0 878.72,643.42 M881.68,627.83 A21.33,21.32 0 0 1 901.53,614.30 M858.87,742.25 A21.33,21.32 0 0 0 878.72,728.72 M881.68,713.12 A21.33,21.32 0 0 1 901.53,699.60 M900.97,699.60 A21.33,21.32 0 0 0 920.82,686.08 M923.78,670.48 A21.33,21.32 0 0 1 943.63,656.95 M945.37,656.95 A21.33,21.32 0 0 0 966.70,635.62 A21.33,21.32 0 0 1 988.03,614.30 M987.17,656.95 A21.33,21.32 0 0 0 1008.50,635.62 A21.33,21.32 0 0 1 1029.83,614.30 M1028.17,614.30 A21.33,21.32 0 0 0 1048.02,600.77 M1050.98,585.17 A21.33,21.32 0 0 1 1070.83,571.65 M1071.87,571.65 A21.33,21.32 0 0 0 1091.72,558.12 M1094.68,542.53 A21.33,21.32 0 0 1 1114.53,529.00 M1071.87,656.95 A21.33,21.32 0 0 0 1091.72,643.42 M1094.68,627.83 A21.33,21.32 0 0 1 1114.53,614.30 M1071.87,742.25 A21.33,21.32 0 0 0 1091.72,728.72 M1094.68,713.12 A21.33,21.32 0 0 1 1114.53,699.60 M1113.77,614.30 A21.33,21.32 0 0 0 1133.62,600.77 M1136.58,585.17 A21.33,21.32 0 0 1 1156.43,571.65 M1155.27,656.95 A21.33,21.32 0 0 0 1176.60,635.62 A21.33,21.32 0 0 1 1197.93,614.30 M1198.17,656.95 A21.33,21.32 0 0 0 1219.50,635.62 A21.33,21.32 0 0 1 1240.83,614.30 M1240.57,699.60 A21.33,21.32 0 0 0 1260.42,686.08 M1263.38,670.48 A21.33,21.32 0 0 1 1283.23,656.95 M1284.47,571.65 A21.33,21.32 0 0 0 1304.32,558.12 M1307.28,542.53 A21.33,21.32 0 0 1 1327.13,529.00 M1284.47,656.95 A21.33,21.32 0 0 0 1304.32,643.42 M1307.28,627.83 A21.33,21.32 0 0 1 1327.13,614.30 M1284.47,742.25 A21.33,21.32 0 0 0 1304.32,728.72 M1307.28,713.12 A21.33,21.32 0 0 1 1327.13,699.60 M1326.77,699.60 A21.33,21.32 0 0 0 1346.62,686.08 M1349.58,670.48 A21.33,21.32 0 0 1 1369.43,656.95 M1370.47,656.95 A21.33,21.32 0 0 0 1391.80,635.62 A21.33,21.32 0 0 1 1413.13,614.30" fill="none" stroke="#D24A4A" stroke-width="2"/>
<path d="M89.12,529.00 A21.33,21.32 0 0 1 108.97,542.53 M111.93,558.12 A21.33,21.32 0 0 0 131.78,571.65 M86.92,699.60 A21.33,21.32 0 0 1 106.77,713.12 M109.73,728.72 A21.33,21.32 0 0 0 129.58,742.25 M130.97,571.65 A21.33,21.32 0 0 1 150.82,585.17 M153.78,600.77 A21.33,21.32 0 0 0 173.63,614.30 M130.97,656.95 A21.33,21.32 0 0 1 150.82,670.48 M153.78,686.08 A21.33,21.32 0 0 0 173.63,699.60 M173.67,614.30 A21.33,21.32 0 0 1 193.52,627.83 M196.48,643.42 A21.33,21.32 0 0 0 216.33,656.95 M215.47,699.60 A21.33,21.32 0 0 1 235.32,713.12 M238.28,728.72 A21.33,21.32 0 0 0 258.13,742.25 M257.47,699.60 A21.33,21.32 0 0 1 277.32,713.12 M280.28,728.72 A21.33,21.32 0 0 0 300.13,742.25 M302.47,529.00 A21.33,21.32 0 0 1 322.32,542.53 M325.28,558.12 A21.33,21.32 0 0 0 345.13,571.65 M344.37,571.65 A21.33,21.32 0 0 1 364.22,585.17 M367.18,600.77 A21.33,21.32 0 0 0 387.03,614.30 M387.47,529.00 A21.33,21.32 0 0 1 407.32,542.53 M410.28,558.12 A21.33,21.32 0 0 0 430.13,571.65 M430.97,614.30 A21.33,21.32 0 0 1 450.82,627.83 M453.78,643.42 A21.33,21.32 0 0 0 473.63,656.95 M472.17,656.95 A21.33,21.32 0 0 1 493.50,678.28 A21.33,21.32 0 0 0 514.83,699.60 M515.77,529.00 A21.33,21.32 0 0 1 537.10,550.33 A21.33,21.32 0 0 0 558.43,571.65 M515.77,614.30 A21.33,21.32 0 0 1 537.10,635.62 A21.33,21.32 0 0 0 558.43,656.95 M515.77,699.60 A21.33,21.32 0 0 1 537.10,720.92 A21.33,21.32 0 0 0 558.43,742.25 M557.77,656.95 A21.33,21.32 0 0 1 579.10,678.28 A21.33,21.32 0 0 0 600.43,699.60 M600.87,614.30 A21.33,21.32 0 0 1 620.72,627.83 M623.68,643.42 A21.33,21.32 0 0 0 643.53,656.95 M643.77,529.00 A21.33,21.32 0 0 1 663.62,542.53 M666.58,558.12 A21.33,21.32 0 0 0 686.43,571.65 M686.87,571.65 A21.33,21.32 0 0 1 706.72,585.17 M709.68,600.77 A21.33,21.32 0 0 0 729.53,614.30 M731.27,529.00 A21.33,21.32 0 0 1 751.12,542.53 M754.08,558.12 A21.33,21.32 0 0 0 773.93,571.65 M772.37,614.30 A21.33,21.32 0 0 1 792.22,627.83 M795.18,643.42 A21.33,21.32 0 0 0 815.03,656.95 M814.87,656.95 A21.33,21.32 0 0 1 836.20,678.28 A21.33,21.32 0 0 0 857.53,699.60 M858.87,529.00 A21.33,21.32 0 0 1 880.20,550.33 A21.33,21.32 0 0 0 901.53,571.65 M858.87,614.30 A21.33,21.32 0 0 1 880.20,635.62 A21.33,21.32 0 0 0 901.53,656.95 M858.87,699.60 A21.33,21.32 0 0 1 880.20,720.92 A21.33,21.32 0 0 0 901.53,742.25 M900.97,656.95 A21.33,21.32 0 0 1 922.30,678.28 A21.33,21.32 0 0 0 943.63,699.60 M945.37,614.30 A21.33,21.32 0 0 1 965.22,627.83 M968.18,643.42 A21.33,21.32 0 0 0 988.03,656.95 M987.17,614.30 A21.33,21.32 0 0 1 1007.02,627.83 M1009.98,643.42 A21.33,21.32 0 0 0 1029.83,656.95 M1028.17,571.65 A21.33,21.32 0 0 1 1049.50,592.97 A21.33,21.32 0 0 0 1070.83,614.30 M1071.87,529.00 A21.33,21.32 0 0 1 1093.20,550.33 A21.33,21.32 0 0 0 1114.53,571.65 M1071.87,614.30 A21.33,21.32 0 0 1 1093.20,635.62 A21.33,21.32 0 0 0 1114.53,656.95 M1071.87,699.60 A21.33,21.32 0 0 1 1093.20,720.92 A21.33,21.32 0 0 0 1114.53,742.25 M1113.77,571.65 A21.33,21.32 0 0 1 1135.10,592.97 A21.33,21.32 0 0 0 1156.43,614.30 M1155.27,614.30 A21.33,21.32 0 0 1 1175.12,627.83 M1178.08,643.42 A21.33,21.32 0 0 0 1197.93,656.95 M1198.17,614.30 A21.33,21.32 0 0 1 1218.02,627.83 M1220.98,643.42 A21.33,21.32 0 0 0 1240.83,656.95 M1240.57,656.95 A21.33,21.32 0 0 1 1261.90,678.28 A21.33,21.32 0 0 0 1283.23,699.60 M1284.47,529.00 A21.33,21.32 0 0 1 1305.80,550.33 A21.33,21.32 0 0 0 1327.13,571.65 M1284.47,614.30 A21.33,21.32 0 0 1 1305.80,635.62 A21.33,21.32 0 0 0 1327.13,656.95 M1284.47,699.60 A21.33,21.32 0 0 1 1305.80,720.92 A21.33,21.32 0 0 0 1327.13,742.25 M1326.77,656.95 A21.33,21.32 0 0 1 1348.10,678.28 A21.33,21.32 0 0 0 1369.43,699.60 M1370.47,614.30 A21.33,21.32 0 0 1 1390.32,627.83 M1393.28,643.42 A21.33,21.32 0 0 0 1413.13,656.95" fill="none" stroke="#FF1A1A" stroke-width="2"/>
<rect x="89.0" y="516.6" width="1325.3" height="237.8" fill="none" stroke="#000" stroke-width="3"/>
<line x1="89.9" y1="460.2" x2="89.9" y2="797" stroke="#00B050" stroke-width="3" stroke-dasharray="9.5 8.72"/>
<line x1="220" y1="460.2" x2="220" y2="797" stroke="#00B050" stroke-width="3" stroke-dasharray="9.5 8.72"/>
<line x1="303.7" y1="460.2" x2="303.7" y2="797" stroke="#00B050" stroke-width="3" stroke-dasharray="9.5 8.72"/>
<line x1="431.5" y1="460.2" x2="431.5" y2="797" stroke="#00B050" stroke-width="3" stroke-dasharray="9.5 8.72"/>
<line x1="644" y1="460.2" x2="644" y2="797" stroke="#00B050" stroke-width="3" stroke-dasharray="9.5 8.72"/>
<line x1="776.4" y1="460.2" x2="776.4" y2="797" stroke="#00B050" stroke-width="3" stroke-dasharray="9.5 8.72"/>
<line x1="1413.4" y1="463.1" x2="1413.4" y2="797" stroke="#00B050" stroke-width="3" stroke-dasharray="9.5 8.72"/>
<text x="140.2" y="484.0" font-family='"Liberation Serif", serif' font-size="26" font-weight="bold" font-style="normal" text-anchor="middle" fill="#000" >H+CZ</text>
<text x="243" y="483.6" font-family='"Liberation Serif", serif' font-size="25" font-weight="bold">R<tspan font-size="21" dy="6">Z</tspan></text>
<text x="360.8" y="483.4" font-family='"Liberation Serif", serif' font-size="25" font-weight="bold" font-style="normal" text-anchor="middle" fill="#000" >H</text>
<text x="536.2" y="483.6" font-family='"Liberation Serif", serif' font-size="25.4" font-weight="bold" font-style="normal" text-anchor="middle" fill="#000" >CNOT</text>
<text x="709.1" y="483.6" font-family='"Liberation Serif", serif' font-size="25" font-weight="bold" font-style="normal" text-anchor="middle" fill="#000" >H</text>
<text x="1081.4" y="483.6" font-family='"Liberation Serif", serif' font-size="25.4" font-weight="bold" font-style="normal" text-anchor="middle" fill="#000" >SWAP</text>
<g transform="translate(68.40,510.50) scale(1.0) translate(-68.9,-510.5)">
<path d="M66.2,511.2 C66.9,510.2 69.4,510.3 69.0,512.1 L64.7,520.7 L64.0,520.5 Z" fill="#000"/>
<path d="M60.4,521.1 L61.6,521.6 L47.9,542.6 C47.0,544.1 44.5,544.4 44.6,543.0 C44.6,542.3 45.1,541.5 45.7,540.7 Z" fill="#000"/>
<path d="M45.9,525.8 C46.8,522.6 48.4,520.4 49.9,520.5 C51.7,520.7 52.1,525.3 51.5,533.4" fill="none" stroke="#000" stroke-width="1.4"/>
</g>
<text x="60.70" y="546.00" font-family='"Liberation Serif", serif' font-size="19.0">1</text>
<g transform="translate(66.20,556.80) scale(1.0) translate(-68.9,-510.5)">
<path d="M66.2,511.2 C66.9,510.2 69.4,510.3 69.0,512.1 L64.7,520.7 L64.0,520.5 Z" fill="#000"/>
<path d="M60.4,521.1 L61.6,521.6 L47.9,542.6 C47.0,544.1 44.5,544.4 44.6,543.0 C44.6,542.3 45.1,541.5 45.7,540.7 Z" fill="#000"/>
<path d="M45.9,525.8 C46.8,522.6 48.4,520.4 49.9,520.5 C51.7,520.7 52.1,525.3 51.5,533.4" fill="none" stroke="#000" stroke-width="1.4"/>
</g>
<text x="59.10" y="592.00" font-family='"Liberation Serif", serif' font-size="19.0">2</text>
<g transform="translate(65.90,603.50) scale(0.967) translate(-68.9,-510.5)">
<path d="M66.2,511.2 C66.9,510.2 69.4,510.3 69.0,512.1 L64.7,520.7 L64.0,520.5 Z" fill="#000"/>
<path d="M60.4,521.1 L61.6,521.6 L47.9,542.6 C47.0,544.1 44.5,544.4 44.6,543.0 C44.6,542.3 45.1,541.5 45.7,540.7 Z" fill="#000"/>
<path d="M45.9,525.8 C46.8,522.6 48.4,520.4 49.9,520.5 C51.7,520.7 52.1,525.3 51.5,533.4" fill="none" stroke="#000" stroke-width="1.4"/>
</g>
<text x="59.10" y="636.70" font-family='"Liberation Serif", serif' font-size="17.6">3</text>
<g transform="translate(65.90,649.00) scale(0.952) translate(-68.9,-510.5)">
<path d="M66.2,511.2 C66.9,510.2 69.4,510.3 69.0,512.1 L64.7,520.7 L64.0,520.5 Z" fill="#000"/>
<path d="M60.4,521.1 L61.6,521.6 L47.9,542.6 C47.0,544.1 44.5,544.4 44.6,543.0 C44.6,542.3 45.1,541.5 45.7,540.7 Z" fill="#000"/>
<path d="M45.9,525.8 C46.8,522.6 48.4,520.4 49.9,520.5 C51.7,520.7 52.1,525.3 51.5,533.4" fill="none" stroke="#000" stroke-width="1.4"/>
</g>
<text x="59.10" y="682.00" font-family='"Liberation Serif", serif' font-size="17.8">4</text>
<g transform="translate(65.90,692.00) scale(0.92) translate(-68.9,-510.5)">
<path d="M66.2,511.2 C66.9,510.2 69.4,510.3 69.0,512.1 L64.7,520.7 L64.0,520.5 Z" fill="#000"/>
<path d="M60.4,521.1 L61.6,521.6 L47.9,542.6 C47.0,544.1 44.5,544.4 44.6,543.0 C44.6,542.3 45.1,541.5 45.7,540.7 Z" fill="#000"/>
<path d="M45.9,525.8 C46.8,522.6 48.4,520.4 49.9,520.5 C51.7,520.7 52.1,525.3 51.5,533.4" fill="none" stroke="#000" stroke-width="1.4"/>
</g>
<text x="59.10" y="723.90" font-family='"Liberation Serif", serif' font-size="17.9">5</text>
<g transform="translate(64.80,734.80) scale(0.91) translate(-68.9,-510.5)">
<path d="M66.2,511.2 C66.9,510.2 69.4,510.3 69.0,512.1 L64.7,520.7 L64.0,520.5 Z" fill="#000"/>
<path d="M60.4,521.1 L61.6,521.6 L47.9,542.6 C47.0,544.1 44.5,544.4 44.6,543.0 C44.6,542.3 45.1,541.5 45.7,540.7 Z" fill="#000"/>
<path d="M45.9,525.8 C46.8,522.6 48.4,520.4 49.9,520.5 C51.7,520.7 52.1,525.3 51.5,533.4" fill="none" stroke="#000" stroke-width="1.4"/>
</g>
<text x="58.50" y="766.90" font-family='"Liberation Serif", serif' font-size="17.9">6</text>
</svg>
</body></html>
